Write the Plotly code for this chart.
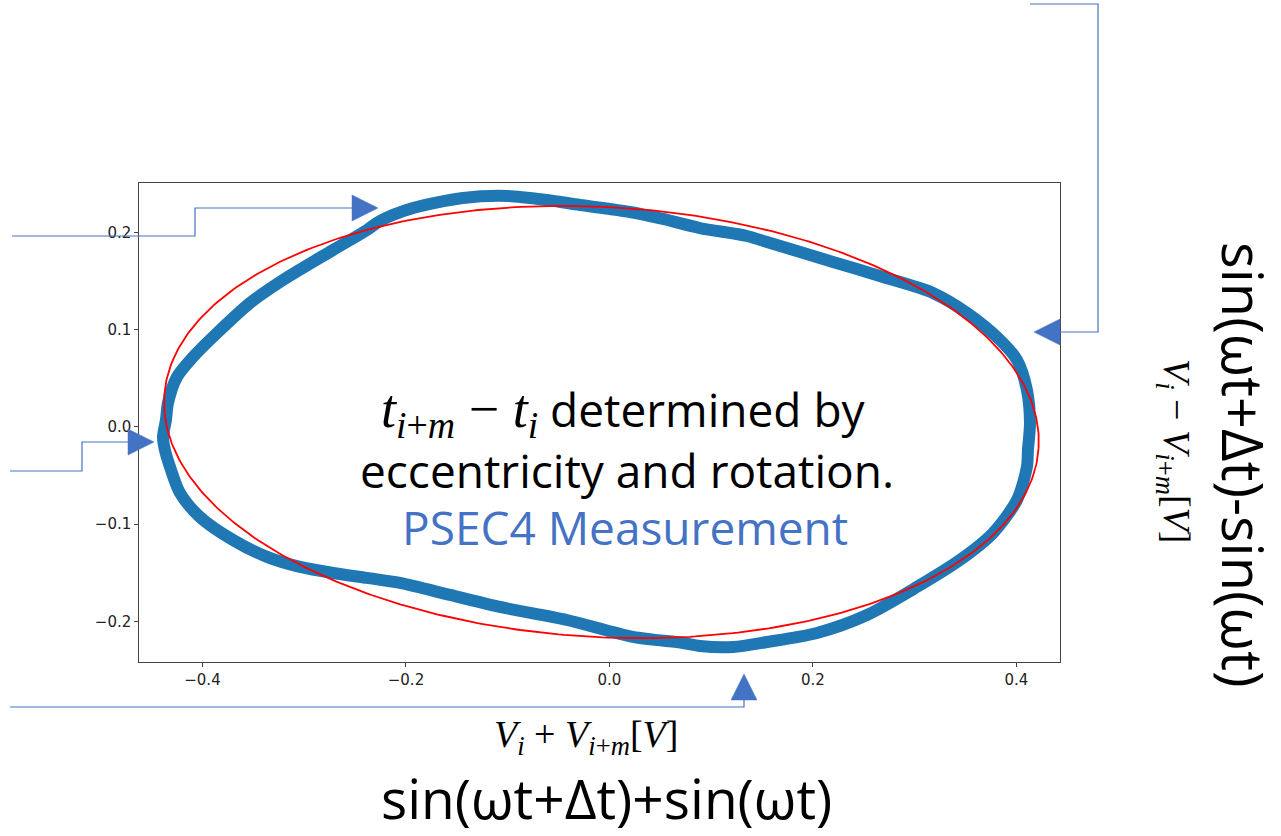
import numpy as np
import plotly.graph_objects as go

# Measured loop: V_i + V_{i+m} (x) against V_i - V_{i+m} (y), in volts
v_sum = [-0.4388, -0.4359, -0.4339, -0.4251, -0.4093, -0.3857, -0.3533, -0.3209,
         -0.2717, -0.2383, -0.2256, -0.1931, -0.1440, -0.1007, -0.0614, -0.0290,
         0.0201, 0.0526, 0.0889, 0.1351, 0.1548, 0.2197, 0.2688, 0.3179,
         0.3514, 0.3838, 0.4005, 0.4103, 0.4133, 0.4113, 0.4103, 0.4005,
         0.3769, 0.3445, 0.3022, 0.2531, 0.2039, 0.1548, 0.1214, 0.0889,
         0.0722, 0.0231, -0.0418, -0.1076, -0.1568, -0.2059, -0.2383, -0.2717,
         -0.3042, -0.3366, -0.3700, -0.4025, -0.4221, -0.4319, -0.4369]
v_diff = [-0.0103, 0.0072, 0.0247, 0.0514, 0.0720, 0.0967, 0.1276, 0.1512,
          0.1821, 0.2027, 0.2119, 0.2253, 0.2356, 0.2377, 0.2335, 0.2284,
          0.2212, 0.2140, 0.2047, 0.1965, 0.1903, 0.1698, 0.1543, 0.1379,
          0.1173, 0.0895, 0.0689, 0.0381, 0.0041, -0.0237, -0.0412, -0.0751,
          -0.1091, -0.1368, -0.1646, -0.1934, -0.2119, -0.2212, -0.2263, -0.2253,
          -0.2222, -0.2160, -0.1986, -0.1852, -0.1728, -0.1605, -0.1553, -0.1502,
          -0.1440, -0.1337, -0.1163, -0.0926, -0.0679, -0.0412, -0.0237]

# Fitted ellipse: centre, semi-axes and tilt (radians)
ell_center = (-0.0079, 0.0051)
ell_axes = (0.4305, 0.2212)
ell_angle = -0.0628

x_ticks = [-0.4, -0.2, 0.0, 0.2, 0.4]
x_tick_text = ["−0.4", "−0.2", "0.0", "0.2", "0.4"]
y_ticks = [-0.2, -0.1, 0.0, 0.1, 0.2]
y_tick_text = ["−0.2", "−0.1", "0.0", "0.1", "0.2"]

W, H = 1281, 836
BLUE = "#1f77b4"
ARROW = "#4472C4"
SANS = "Open Sans"
SERIF = "Liberation Serif"


def P(px, py):
    """Pixel position on the page -> paper coordinates."""
    return px / W, 1 - py / H


fig = go.Figure()

# measurement band
fig.add_trace(go.Scatter(
    x=v_sum + v_sum[:1], y=v_diff + v_diff[:1], mode="lines",
    line=dict(color=BLUE, width=12, shape="spline", smoothing=0.8),
    hoverinfo="skip", showlegend=False))

# ellipse fit
t = np.linspace(0, 2 * np.pi, 500)
a, b = ell_axes
cx, cy = ell_center
ex = cx + a * np.cos(t) * np.cos(ell_angle) - b * np.sin(t) * np.sin(ell_angle)
ey = cy + a * np.cos(t) * np.sin(ell_angle) + b * np.sin(t) * np.cos(ell_angle)
fig.add_trace(go.Scatter(x=ex, y=ey, mode="lines",
                         line=dict(color="red", width=1.8),
                         hoverinfo="skip", showlegend=False))

axis_common = dict(showline=True, mirror=True, linecolor="#444", linewidth=1,
                   ticks="outside", ticklen=4, tickcolor="#444", tickwidth=1,
                   showgrid=False, zeroline=False,
                   tickfont=dict(family="DejaVu Sans", size=15, color="#222"))

fig.update_layout(
    width=W, height=H, margin=dict(l=0, r=0, t=0, b=0),
    paper_bgcolor="white", plot_bgcolor="white", showlegend=False,
    xaxis=dict(domain=[139.3 / W, 1060 / W], range=[-0.4621, 0.4428],
               tickvals=x_ticks, ticktext=x_tick_text, **axis_common),
    yaxis=dict(domain=[1 - 661.7 / H, 1 - 183.3 / H], range=[-0.2415, 0.2507],
               tickvals=y_ticks, ticktext=y_tick_text, **axis_common),
)


def path(points, close=False):
    pts = [P(x, y) for x, y in points]
    s = "M " + " L ".join(f"{x:.5f},{y:.5f}" for x, y in pts)
    return s + (" Z" if close else "")


connectors = [
    [(12, 236), (195, 236), (195, 208), (353, 208)],
    [(10, 471), (82, 471), (82, 442), (129, 442)],
    [(1030, 4), (1098, 4), (1098, 332), (1059, 332)],
    [(10, 707), (744, 707), (744, 699)],
]
heads = [
    [(352, 195), (378, 208), (352, 221)],
    [(128, 429), (154, 442), (128, 455)],
    [(1060, 319), (1034, 332), (1060, 345)],
    [(731, 700), (744, 674), (757, 700)],
]
shapes = []
for c in connectors:
    shapes.append(dict(type="path", xref="paper", yref="paper", path=path(c),
                       line=dict(color=ARROW, width=1.2), layer="above"))
for h in heads:
    shapes.append(dict(type="path", xref="paper", yref="paper", path=path(h, True),
                       fillcolor=ARROW, line=dict(color=ARROW, width=0.5), layer="above"))
fig.update_layout(shapes=shapes)

math_t = (f"<span style='font-family:{SERIF};font-size:54px'><i>t</i><sub><i>i</i>+<i>m</i></sub>"
          f" − <i>t</i><sub><i>i</i></sub></span>")

annos = [
    dict(text=math_t + " determined by", pos=(623, 412), size=46, color="black",
         family=SANS, angle=0),
    dict(text="eccentricity and rotation.", pos=(627, 470), size=46, color="black",
         family=SANS, angle=0),
    dict(text="PSEC4 Measurement", pos=(625, 527), size=46, color=ARROW,
         family=SANS, angle=0),
    dict(text="<i>V</i><sub><i>i</i></sub> + <i>V</i><sub><i>i</i>+<i>m</i></sub>[<i>V</i>]",
         pos=(586, 737), size=38, color="black", family=SERIF, angle=0),
    dict(text="sin(ωt+Δt)+sin(ωt)", pos=(606, 797), size=55, color="black",
         family=SANS, angle=0),
    dict(text="sin(ωt+Δt)-sin(ωt)", pos=(1244, 464), size=56, color="black",
         family=SANS, angle=90),
    dict(text="<i>V</i><sub><i>i</i></sub> − <i>V</i><sub><i>i</i>+<i>m</i></sub>[<i>V</i>]",
         pos=(1174, 451), size=38, color="black", family=SERIF, angle=90),
]
for an in annos:
    x, y = P(*an["pos"])
    fig.add_annotation(x=x, y=y, xref="paper", yref="paper", text=an["text"],
                       showarrow=False, xanchor="center", yanchor="middle",
                       textangle=an["angle"],
                       font=dict(family=an["family"], size=an["size"], color=an["color"]))

fig.write_html("out.html")
